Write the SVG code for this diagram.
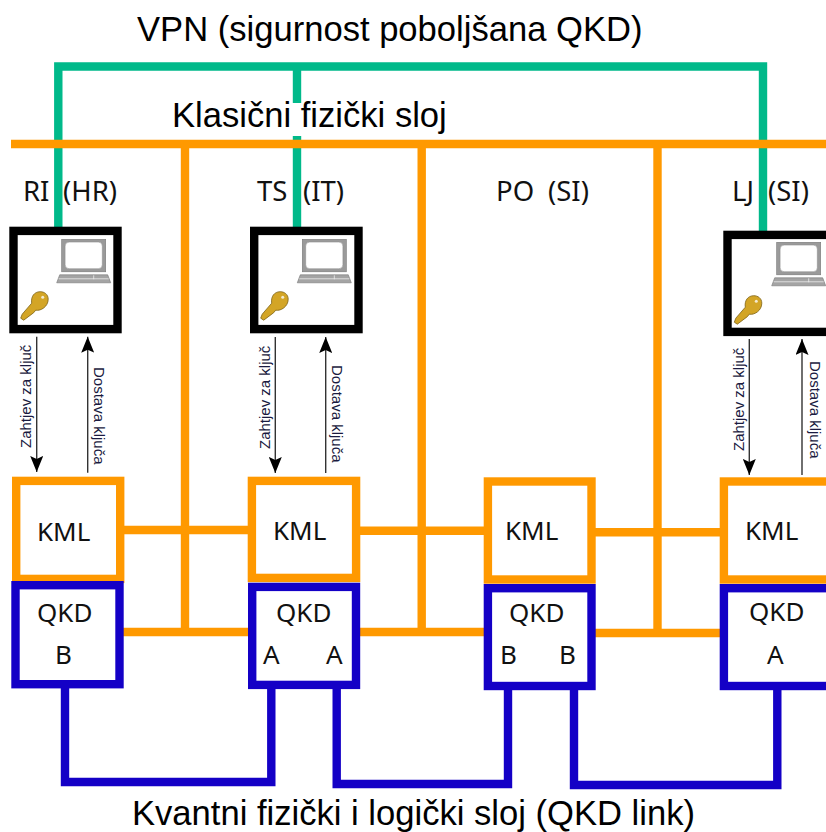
<svg xmlns="http://www.w3.org/2000/svg" width="826" height="832" viewBox="0 0 826 832">
<style>
.t{font-family:"Liberation Sans",Arial,sans-serif;fill:#000}
.title{font-size:34.6px}
.n{font-family:"Noto Sans","Open Sans",sans-serif;font-size:26px;fill:#111}
.l{font-family:"Noto Sans","Open Sans",sans-serif;font-size:27.5px;fill:#111}
.s{font-family:"Liberation Sans",Arial,sans-serif;font-size:15px;fill:#1a1a40}
.g,.o,.b{fill:none;stroke-width:8.4;stroke-linejoin:miter}
.g{stroke:#00b98a}.o{stroke:#ff9900}.b{stroke:#1400c6}
.oo{fill:#fff;stroke:#ff9900;stroke-width:8.4}
.bb{fill:#fff;stroke:#1400c6;stroke-width:8.4}
.k{fill:#fff;stroke:#000;stroke-width:8.4}
.a{stroke:#333;stroke-width:1.4;fill:none}
</style>
<defs>
<marker id="ah" markerUnits="userSpaceOnUse" markerWidth="16" markerHeight="13" refX="16" refY="6.5" orient="auto" viewBox="0 0 16 13"><path d="M0 0L16 6.5L0 13L3 6.5Z" fill="#000"/></marker>
<g id="pc">
<rect x="0" y="0" width="44" height="32.5" fill="#9a9a9a" stroke="#777" stroke-width=".6"/>
<rect x="3.4" y="2.8" width="37.2" height="26.6" rx="4" fill="#fff" stroke="#888" stroke-width=".5"/>
<path d="M-2 35.5H46L49 43.5H-5Z" fill="#a4a4a4" stroke="#777" stroke-width=".6"/>
<path d="M-3 39.5H47" stroke="#eee" stroke-width=".8"/>
<path d="M32 36V40" stroke="#eee" stroke-width=".8"/>
</g>
<g id="key">
<path d="M0 26.5L3 28.5L13 21L15 18.5C20 19.5 27.5 15 27.5 7.5C27.5 2.5 23.5 0 19.5 0C13.5 0 10 5 11 11.5L1.5 22.5Z" fill="#d3a526" stroke="#7d6214" stroke-width=".8"/>
<circle cx="22" cy="5.5" r="1.5" fill="#f4ead0"/>
</g>
</defs>
<text class="t title" x="137" y="41">VPN (sigurnost poboljšana QKD)</text>
<text class="t title" x="172" y="127">Klasični fizički sloj</text>
<text class="t title" x="132" y="824.5">Kvantni fizički i logički sloj (QKD link)</text>
<g id="connectors">
<path class="g" d="M58.3 228V66.5H763V232"/>
<path class="g" d="M297 66.5V103M297 136V228"/>
<path class="o" d="M11 144H826"/>
<path class="o" d="M185 144V632M421.7 144V632M657.5 144V633"/>
<path class="o" d="M120 530H250M356 530.7H486M592 532.3H722"/>
<path class="o" d="M120 632H250M356 632H486M592 633H722"/>
<path class="b" d="M65 686V782H271.3V686"/>
<path class="b" d="M336.7 686V784H508V686"/>
<path class="b" d="M574 686V785H777.3V686"/>
<path class="a" marker-end="url(#ah)" d="M36.7 336.7V472"/>
<path class="a" marker-end="url(#ah)" d="M87.7 472.7V336.7"/>
<path class="a" marker-end="url(#ah)" d="M275.3 337V473"/>
<path class="a" marker-end="url(#ah)" d="M325.7 473V337"/>
<path class="a" marker-end="url(#ah)" d="M749.3 339V475"/>
<path class="a" marker-end="url(#ah)" d="M802 475V339"/>
<text class="s" transform="translate(31 448) rotate(-90)">Zahtjev za ključ</text>
<text class="s" transform="translate(94 367) rotate(90)">Dostava ključa</text>
<text class="s" transform="translate(270 449) rotate(-90)">Zahtjev za ključ</text>
<text class="s" transform="translate(332 365) rotate(90)">Dostava ključa</text>
<text class="s" transform="translate(744 451) rotate(-90)">Zahtjev za ključ</text>
<text class="s" transform="translate(810 361) rotate(90)">Dostava ključa</text>
</g>
<g id="node-ri">
<text class="l" y="201"><tspan x="23">RI </tspan><tspan x="63">(HR)</tspan></text>
<rect class="k" x="13.5" y="230.9" width="104" height="98.2"/>
<use href="#pc" x="61.7" y="239.3"/><use href="#key" x="20.7" y="291.7"/>
</g>
<g id="node-ts">
<text class="l" y="201"><tspan x="257">TS </tspan><tspan x="303">(IT)</tspan></text>
<rect class="k" x="254.2" y="230.9" width="104.3" height="98.2"/>
<use href="#pc" x="302.3" y="239.3"/><use href="#key" x="260.7" y="291.7"/>
</g>
<g id="node-po">
<text class="l" y="201"><tspan x="496">PO </tspan><tspan x="548">(SI)</tspan></text>
</g>
<g id="node-lj">
<text class="l" y="201"><tspan x="732">LJ </tspan><tspan x="768">(SI)</tspan></text>
<rect class="k" x="727.5" y="234.9" width="120" height="97"/>
<use href="#pc" x="776.7" y="242.3"/><use href="#key" x="734.3" y="295.7"/>
</g>
<g id="kml-ri"><rect class="oo" x="16.2" y="480.9" width="104" height="98"/><text class="n" x="37" y="541">KML</text></g>
<g id="qkd-ri"><rect class="bb" x="15.5" y="585.2" width="104" height="99"/><text class="n" x="37" y="622">QKD</text><text class="n" x="55" y="664">B</text></g>
<g id="kml-ts"><rect class="oo" x="251.9" y="480.9" width="104.2" height="97"/><text class="n" x="273" y="540">KML</text></g>
<g id="qkd-ts"><rect class="bb" x="252.2" y="586.9" width="103.8" height="98"/><text class="n" x="276" y="622">QKD</text><text class="n" x="263" y="664">A</text><text class="n" x="326" y="664">A</text></g>
<g id="kml-po"><rect class="oo" x="487.9" y="481.5" width="103.6" height="98"/><text class="n" x="505" y="540">KML</text></g>
<g id="qkd-po"><rect class="bb" x="487.9" y="588.2" width="103.6" height="97.8"/><text class="n" x="509" y="622">QKD</text><text class="n" x="500" y="664">B</text><text class="n" x="559" y="664">B</text></g>
<g id="kml-lj"><rect class="oo" x="723.9" y="481.5" width="120" height="98"/><text class="n" x="745" y="540">KML</text></g>
<g id="qkd-lj"><rect class="bb" x="723.9" y="588.2" width="120" height="97.8"/><text class="n" x="749" y="621">QKD</text><text class="n" x="767" y="664">A</text></g>
</svg>
